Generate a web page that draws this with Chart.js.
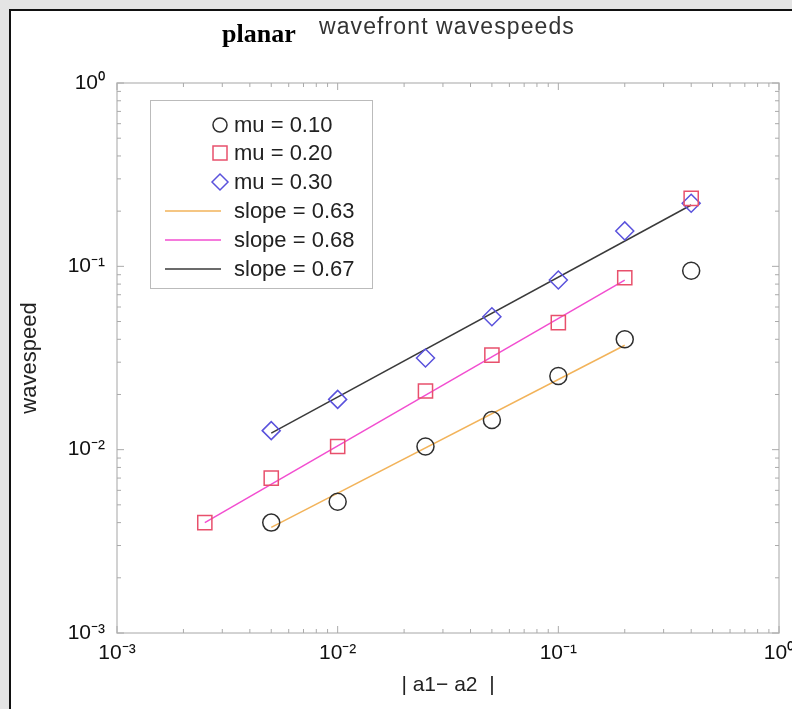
<!DOCTYPE html>
<html>
<head>
<meta charset="utf-8">
<script src="https://cdn.jsdelivr.net/npm/chart.js@4.4.1/dist/chart.umd.min.js"></script>
<style>
  body { margin: 0; background: #e4e4e4; width: 792px; height: 709px; overflow: hidden; position: relative; }
  #panel { position: absolute; left: 9px; top: 9px; width: 900px; height: 800px; background: #fff; border: 2px solid #111; }
  #chart { position: absolute; left: 0; top: 0; }
  .ttl { position: absolute; white-space: nowrap; }
  #t1 { left: 222px; top: 21px; font: bold 26px/26px "Liberation Serif", serif; color: #000; }
  #t2 { left: 319px; top: 15px; font: 23px/23px "Liberation Sans", Arial, sans-serif; letter-spacing: 1.1px; color: #333; }
</style>
</head>
<body>
<div id="panel"></div>
<canvas id="chart" width="792" height="709"></canvas>
<div class="ttl" id="t1">planar</div>
<div class="ttl" id="t2">wavefront wavespeeds</div>
<script>
// valores
const xVals = [0.0025, 0.005, 0.01, 0.025, 0.05, 0.1, 0.2, 0.4];
const mu10 = [null, 0.0040, 0.0052, 0.0104, 0.0145, 0.0252, 0.040, 0.0946];
const mu20 = [0.0040, 0.0070, 0.0104, 0.0209, 0.0328, 0.0493, 0.0867, 0.235];
const mu30 = [null, 0.0127, 0.0188, 0.0316, 0.0531, 0.0842, 0.156, 0.221];

// rectas de ajuste (extremos)
const fitX63 = [0.005, 0.2];
const fitY63 = [0.00377, 0.0371];
const fitX68 = [0.0025, 0.2];
const fitY68 = [0.0040, 0.084];
const fitX67 = [0.005, 0.4];
const fitY67 = [0.0123, 0.216];

const tickVals = [0.001, 0.01, 0.1, 1];
const tickLabels = ['10\u207B\u00B3', '10\u207B\u00B2', '10\u207B\u00B9', '10\u2070'];

const legendLabels = ['mu = 0.10', 'mu = 0.20', 'mu = 0.30', 'slope = 0.63', 'slope = 0.68', 'slope = 0.67'];

const cCirc = '#2e2e2e', cSq = '#e8506c', cDia = '#5a52dc';
const cOr = '#f2b35a', cPink = '#f24ed0', cBlk = '#3a3a3a';

const pts = (ys) => xVals.map((x, i) => ys[i] == null ? null : {x: x, y: ys[i]}).filter(p => p);
const line = (xs, ys) => xs.map((x, i) => ({x: x, y: ys[i]}));

const fontName = '"Liberation Sans", Arial, sans-serif';

// marco, marcas menores y leyenda
const framePlugin = {
  id: 'frame',
  afterDatasetsDraw(chart) {
    const ctx = chart.ctx;
    const a = chart.chartArea;
    const xs = chart.scales.x, ys = chart.scales.y;
    ctx.save();
    ctx.strokeStyle = '#c4c4c4';
    ctx.lineWidth = 1.5;
    ctx.strokeRect(a.left, a.top, a.right - a.left, a.bottom - a.top);
    ctx.strokeStyle = '#aaa';
    ctx.lineWidth = 1;
    for (let e = -3; e <= 0; e++) {
      for (let m = 1; m <= 9; m++) {
        const v = m * Math.pow(10, e);
        if (v > 1.0001) continue;
        const len = m === 1 ? 7 : 4;
        const px = xs.getPixelForValue(v);
        const py = ys.getPixelForValue(v);
        ctx.beginPath();
        ctx.moveTo(px, a.bottom); ctx.lineTo(px, a.bottom - len);
        ctx.moveTo(px, a.top); ctx.lineTo(px, a.top + len);
        ctx.moveTo(a.left, py); ctx.lineTo(a.left + len, py);
        ctx.moveTo(a.right, py); ctx.lineTo(a.right - len, py);
        ctx.stroke();
      }
    }
    // leyenda
    const bx = 150, by = 100, bw = 222, bh = 188;
    ctx.fillStyle = '#fff';
    ctx.fillRect(bx, by, bw, bh);
    ctx.strokeStyle = '#bbb';
    ctx.strokeRect(bx + 0.5, by + 0.5, bw, bh);
    const rowY = [125, 153, 182, 211, 240, 269];
    const mx = 220;
    ctx.lineWidth = 1.5;
    // circulo
    ctx.strokeStyle = cCirc;
    ctx.beginPath(); ctx.arc(mx, rowY[0], 7, 0, Math.PI * 2); ctx.stroke();
    // cuadrado
    ctx.strokeStyle = cSq;
    ctx.strokeRect(mx - 7, rowY[1] - 7, 14, 14);
    // rombo
    ctx.strokeStyle = cDia;
    ctx.beginPath();
    ctx.moveTo(mx - 8, rowY[2]); ctx.lineTo(mx, rowY[2] - 8);
    ctx.lineTo(mx + 8, rowY[2]); ctx.lineTo(mx, rowY[2] + 8); ctx.closePath();
    ctx.stroke();
    [cOr, cPink, cBlk].forEach((c, i) => {
      ctx.strokeStyle = c;
      ctx.beginPath(); ctx.moveTo(165, rowY[3 + i]); ctx.lineTo(221, rowY[3 + i]); ctx.stroke();
    });
    ctx.fillStyle = '#222';
    ctx.font = '22px ' + fontName;
    ctx.textBaseline = 'middle';
    ctx.textAlign = 'left';
    legendLabels.forEach((t, i) => ctx.fillText(t, 234, rowY[i] + 1));
    ctx.restore();
  }
};

const setTicks = (scale) => { scale.ticks = tickVals.map(v => ({value: v})); };
const fmt = (v) => tickLabels[tickVals.findIndex(t => Math.abs(t - v) / t < 1e-6)] || '';

new Chart(document.getElementById('chart').getContext('2d'), {
  type: 'scatter',
  data: {
    datasets: [
      { label: legendLabels[0], data: pts(mu10), pointStyle: 'circle', pointRadius: 8.5, pointHoverRadius: 8.5,
        borderColor: cCirc, backgroundColor: 'transparent', pointBorderWidth: 1.5, showLine: false },
      { label: legendLabels[1], data: pts(mu20), pointStyle: 'rect', pointRadius: 10, pointHoverRadius: 10,
        borderColor: cSq, backgroundColor: 'transparent', pointBorderWidth: 1.5, showLine: false },
      { label: legendLabels[2], data: pts(mu30), pointStyle: 'rectRot', pointRadius: 9, pointHoverRadius: 9,
        borderColor: cDia, backgroundColor: 'transparent', pointBorderWidth: 1.5, showLine: false },
      { label: legendLabels[3], data: line(fitX63, fitY63), showLine: true, pointRadius: 0,
        borderColor: cOr, borderWidth: 1.5 },
      { label: legendLabels[4], data: line(fitX68, fitY68), showLine: true, pointRadius: 0,
        borderColor: cPink, borderWidth: 1.5 },
      { label: legendLabels[5], data: line(fitX67, fitY67), showLine: true, pointRadius: 0,
        borderColor: cBlk, borderWidth: 1.5 }
    ]
  },
  options: {
    responsive: false,
    animation: false,
    devicePixelRatio: 1,
    layout: { padding: { top: 83, right: 13, left: 0, bottom: 0 } },
    plugins: {
      legend: { display: false },
      tooltip: { enabled: false }
    },
    scales: {
      x: {
        type: 'logarithmic',
        min: 0.001,
        max: 1,
        afterBuildTicks: setTicks,
        afterFit: (s) => { s.height = 76; s.paddingLeft = 0; s.paddingRight = 0; },
        grid: { display: false, drawTicks: false },
        border: { display: false },
        ticks: { callback: fmt, color: '#111', padding: 8, maxRotation: 0, autoSkip: false,
          font: { family: fontName, size: 21 } },
        title: { display: true, text: '| a1\u2212 a2  |', color: '#222',
          padding: { top: 0, bottom: 11 }, font: { family: fontName, size: 21 } }
      },
      y: {
        type: 'logarithmic',
        min: 0.001,
        max: 1,
        afterBuildTicks: setTicks,
        afterFit: (s) => { s.width = 117; },
        grid: { display: false, drawTicks: false },
        border: { display: false },
        ticks: { callback: fmt, color: '#111', padding: 12, autoSkip: false,
          font: { family: fontName, size: 21 } },
        title: { display: true, text: 'wavespeed', color: '#222',
          padding: { top: 17, bottom: 0 }, font: { family: fontName, size: 22 } }
      }
    }
  },
  plugins: [framePlugin]
});
</script>
</body>
</html>
